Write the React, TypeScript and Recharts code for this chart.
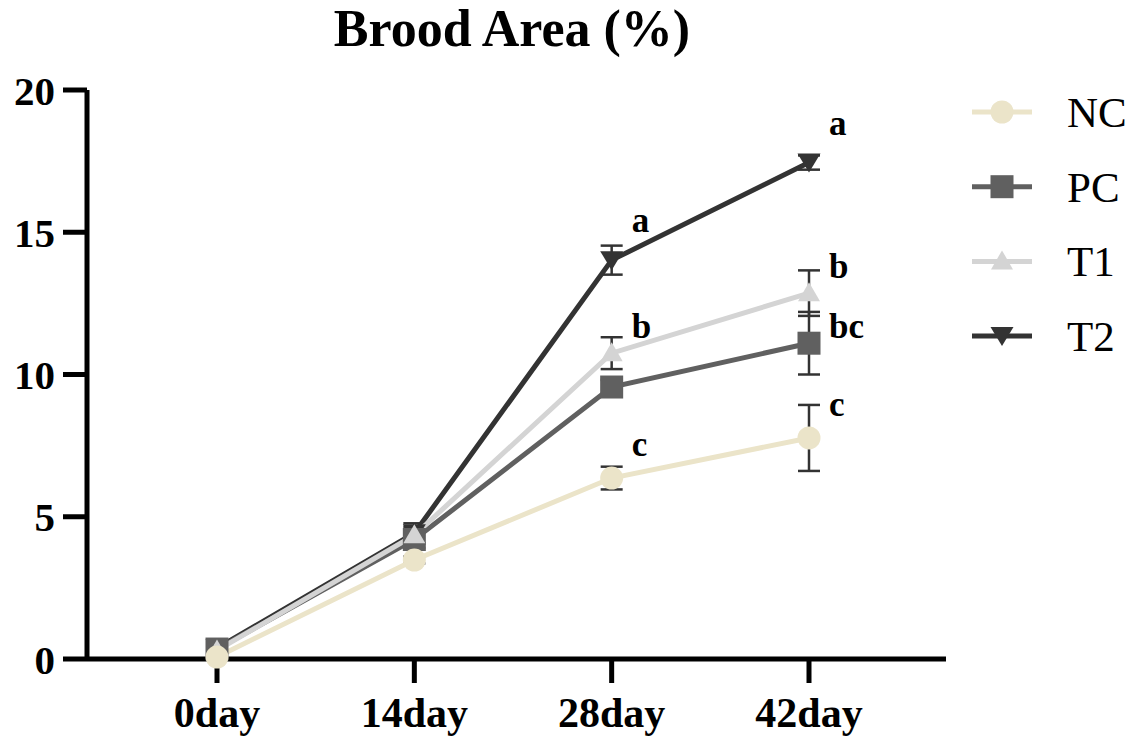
import { LineChart, Line, XAxis, YAxis, ErrorBar, LabelList, Legend } from "recharts";

const FONT = '"Liberation Serif", "Times New Roman", serif';

const DAYS = ["0day", "14day", "28day", "42day"];
const Y_TICKS = [0, 5, 10, 15, 20];

const NC_MEAN = [0.07, 3.48, 6.36, 7.77];
const NC_SEM = [0.05, 0.12, 0.4, 1.16];
const NC_LETTERS = ["", "", "c", "c"];

const PC_MEAN = [0.35, 4.2, 9.56, 11.1];
const PC_SEM = [0.08, 0.3, 0.25, 1.1];
const PC_LETTERS = ["", "", "", "bc"];

const T1_MEAN = [0.3, 4.35, 10.75, 12.86];
const T1_SEM = [0.08, 0.3, 0.56, 0.8];
const T1_LETTERS = ["", "", "b", "b"];

const T2_MEAN = [0.38, 4.42, 14.02, 17.45];
const T2_SEM = [0.08, 0.35, 0.51, 0.25];
const T2_LETTERS = ["", "", "a", "a"];

// drawing order: NC last so its circles sit on top
const SERIES = [
  { key: "t2", name: "T2", color: "#333333", shape: "down", letterDy: -28 },
  { key: "pc", name: "PC", color: "#606060", shape: "square", letterDy: -5 },
  { key: "t1", name: "T1", color: "#d4d4d4", shape: "up", letterDy: -15 },
  { key: "nc", name: "NC", color: "#ebe4c9", shape: "circle", letterDy: -22 },
];
const LEGEND_ORDER = ["NC", "PC", "T1", "T2"];

const data = DAYS.map((day, i) => ({
  day,
  nc: NC_MEAN[i],
  ncErr: NC_SEM[i],
  ncLetter: NC_LETTERS[i],
  pc: PC_MEAN[i],
  pcErr: PC_SEM[i],
  pcLetter: PC_LETTERS[i],
  t1: T1_MEAN[i],
  t1Err: T1_SEM[i],
  t1Letter: T1_LETTERS[i],
  t2: T2_MEAN[i],
  t2Err: T2_SEM[i],
  t2Letter: T2_LETTERS[i],
}));

function Marker({ shape, cx, cy, color }: { shape: string; cx: number; cy: number; color: string }) {
  if (cx == null || cy == null) return null;
  if (shape === "circle") return <circle cx={cx} cy={cy} r={11.5} fill={color} />;
  if (shape === "square")
    return <rect x={cx - 11.5} y={cy - 11.5} width={23} height={23} fill={color} />;
  if (shape === "up")
    return (
      <polygon points={`${cx},${cy - 11} ${cx + 11},${cy + 8} ${cx - 11},${cy + 8}`} fill={color} />
    );
  return (
    <polygon points={`${cx - 11.5},${cy - 9} ${cx + 11.5},${cy - 9} ${cx},${cy + 10}`} fill={color} />
  );
}

const letterLabel = (dy: number) => (props: any) => {
  const { x, y, value } = props;
  if (!value) return null;
  return (
    <text x={x + 20} y={y + dy} fontSize={35} fontWeight="bold" fontFamily={FONT} fill="#000">
      {value}
    </text>
  );
};

const renderLegend = (props: any) => {
  const items = [...(props.payload || [])].sort(
    (a: any, b: any) => LEGEND_ORDER.indexOf(a.value) - LEGEND_ORDER.indexOf(b.value)
  );
  return (
    <svg width={170} height={300}>
      {items.map((it: any, i: number) => {
        const s = SERIES.find((v) => v.name === it.value);
        if (!s) return null;
        const y = 37 + i * 74.7;
        return (
          <g key={s.name}>
            <line x1={7} x2={67} y1={y} y2={y} stroke={s.color} strokeWidth={5} />
            <Marker shape={s.shape} cx={37} cy={y} color={s.color} />
            <text x={102} y={y + 15} fontSize={43} fontFamily={FONT} fill="#000">
              {s.name}
            </text>
          </g>
        );
      })}
    </svg>
  );
};

export default function App() {
  const axisStyle = { stroke: "#000", strokeWidth: 5 };
  return (
    <div
      style={{
        position: "absolute",
        left: 0,
        top: 0,
        width: 1135,
        height: 740,
        background: "#fff",
        fontFamily: FONT,
      }}
    >
      {/* the legend box (170px) is added to the right offset by recharts */}
      <LineChart width={1135} height={740} data={data} margin={{ top: 90, right: 19, bottom: 0, left: 0 }}>
        <XAxis
          dataKey="day"
          height={81}
          interval={0}
          padding={{ left: 130, right: 137 }}
          axisLine={axisStyle}
          tickLine={axisStyle}
          tickSize={24}
          tickMargin={14}
          tick={{ fontSize: 42, fontWeight: "bold", fill: "#000", fontFamily: FONT }}
        />
        <YAxis
          domain={[0, 20]}
          ticks={Y_TICKS}
          width={87}
          axisLine={axisStyle}
          tickLine={axisStyle}
          tickSize={24}
          tickMargin={8}
          tick={{ fontSize: 41, fontWeight: "bold", fill: "#000", fontFamily: FONT }}
        />
        <Legend
          layout="horizontal"
          verticalAlign="middle"
          align="right"
          content={renderLegend}
          wrapperStyle={{ position: "absolute", left: 965, top: 75, width: 170, height: 300 }}
        />
        {SERIES.map((s) => (
          <Line
            key={s.key}
            dataKey={s.key}
            name={s.name}
            stroke={s.color}
            strokeWidth={5}
            isAnimationActive={false}
            activeDot={false}
            dot={(p: any) => <Marker key={`${s.key}-${p.index}`} shape={s.shape} cx={p.cx} cy={p.cy} color={s.color} />}
          >
            <ErrorBar
              dataKey={`${s.key}Err`}
              direction="y"
              width={11}
              stroke="#333"
              strokeWidth={2.5}
              isAnimationActive={false}
            />
            <LabelList dataKey={`${s.key}Letter`} content={letterLabel(s.letterDy)} />
          </Line>
        ))}
      </LineChart>
      <div
        style={{
          position: "absolute",
          left: 512,
          top: 3,
          transform: "translateX(-50%)",
          fontSize: 52,
          fontWeight: "bold",
          lineHeight: 1,
          whiteSpace: "nowrap",
          color: "#000",
        }}
      >
        Brood Area (%)
      </div>
    </div>
  );
}
